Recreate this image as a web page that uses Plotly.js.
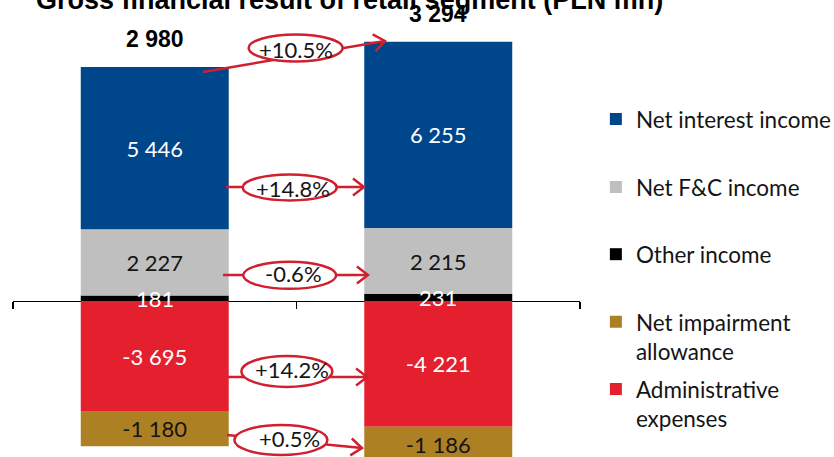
<!DOCTYPE html>
<html>
<head>
<meta charset="utf-8">
<script src="https://cdn.plot.ly/plotly-3.0.1.min.js"></script>
<style>
  html, body { margin: 0; padding: 0; background: #ffffff; }
  #chart { width: 834px; height: 457px; }
</style>
</head>
<body>
<div id="chart"></div>
<script>
// Retail segment: gross financial result components (PLN mn), two periods
const categories = ['Y1', 'Y2'];
const netInterestIncome = [5446, 6255];
const netFCIncome = [2227, 2215];
const otherIncome = [181, 231];
const adminExpenses = [-3695, -4221];
const impairmentAllowance = [-1180, -1186];
const totals = [2980, 3294];
const changeLabels = ['+10.5%', '+14.8%', '-0.6%', '+14.2%', '+0.5%'];

const BLUE = '#00468b';
const GREY = '#bfbfbf';
const BLACK = '#000000';
const RED = '#e5202e';
const GOLD = '#ad8024';
const LINK = '#d0202f';
const DARK = '#141414';
const FONT = 'Lato, "Open Sans", sans-serif';
const SANS = '"Liberation Sans", Arial, sans-serif';

// "5 446" / "-3 695" style labels
function fmt(v) {
  const s = Math.abs(Math.round(v)).toString().replace(/\B(?=(\d{3})+(?!\d))/g, ' ');
  return (v < 0 ? '-' : '') + s;
}

function barTrace(name, values, color, textColor, legendId, rank, showText) {
  return {
    type: 'bar',
    name: name,
    x: categories,
    y: values,
    text: values.map(fmt),
    texttemplate: '%{text}',
    textposition: showText ? 'inside' : 'none',
    insidetextanchor: 'middle',
    textangle: 0,
    constraintext: 'none',
    textfont: { family: FONT, size: 22, color: textColor },
    marker: { color: color, line: { width: 0 } },
    legend: legendId,
    legendrank: rank,
    hoverinfo: 'skip'
  };
}

// positive stack builds upward from zero, negative stack downward
const data = [
  barTrace('Other income', otherIncome, BLACK, '#ffffff', 'legend3', 3, false),
  barTrace('Net F&C income', netFCIncome, GREY, DARK, 'legend2', 2, true),
  barTrace('Net interest income', netInterestIncome, BLUE, '#ffffff', 'legend', 1, true),
  barTrace('Administrative<br>expenses', adminExpenses, RED, '#ffffff', 'legend5', 5, true),
  barTrace('Net impairment<br>allowance', impairmentAllowance, GOLD, DARK, 'legend4', 4, true)
];

// period-on-period connectors: line from one bar to the next, an ellipse with the change
// x in category-index units, y in PLN mn
const connectors = [
  { x0: 0.170, y0: 7685, x1: 0.812, y1: 8725, ex: 0.497, ey: 8490, ew: 94, eh: 27, tx: 0.497, ty: 8440, dir: [182, 31] },
  { x0: 0.251, y0: 3826, x1: 0.738, y1: 3826, ex: 0.476, ey: 3810, ew: 94, eh: 26, tx: 0.487, ty: 3790, dir: [1, 0] },
  { x0: 0.241, y0: 873, x1: 0.752, y1: 873, ex: 0.476, ey: 860, ew: 93, eh: 27, tx: 0.490, ty: 930, dir: [1, 0] },
  { x0: 0.259, y0: -2550, x1: 0.749, y1: -2550, ex: 0.466, ey: -2365, ew: 91, eh: 31, tx: 0.484, ty: -2300, dir: [1, 0] },
  { x0: 0.255, y0: -4497, x1: 0.731, y1: -4933, ex: 0.445, ey: -4664, ew: 93, eh: 30, tx: 0.477, ty: -4600, dir: [135, -13] }
];

function chevron(dir) {
  const len = Math.hypot(dir[0], dir[1]);
  const ux = dir[0] / len, uy = dir[1] / len;
  const px = -uy, py = ux;
  const back = 11, half = 8.5;
  const a = [-ux * back + px * half, -uy * back + py * half];
  const b = [-ux * back - px * half, -uy * back - py * half];
  return 'M' + a[0].toFixed(2) + ',' + a[1].toFixed(2) + ' L0,0 L' + b[0].toFixed(2) + ',' + b[1].toFixed(2);
}

const shapes = [];
const annotations = [];

connectors.forEach(function (c) {
  shapes.push({
    type: 'line', xref: 'x', yref: 'y', layer: 'above',
    x0: c.x0, y0: c.y0, x1: c.x1, y1: c.y1,
    line: { color: LINK, width: 2.5 }
  });
});
connectors.forEach(function (c, i) {
  shapes.push({
    type: 'circle', xref: 'x', yref: 'y', layer: 'above',
    xsizemode: 'pixel', ysizemode: 'pixel',
    xanchor: c.ex, yanchor: c.ey,
    x0: -c.ew / 2, x1: c.ew / 2, y0: -c.eh / 2, y1: c.eh / 2,
    fillcolor: '#ffffff',
    line: { color: LINK, width: 2.5 }
  });
  shapes.push({
    type: 'path', xref: 'x', yref: 'y', layer: 'above',
    xsizemode: 'pixel', ysizemode: 'pixel',
    xanchor: c.x1, yanchor: c.y1,
    path: chevron(c.dir),
    fillcolor: 'rgba(0,0,0,0)',
    line: { color: LINK, width: 2.5 }
  });
  annotations.push({
    xref: 'x', yref: 'y', x: c.tx, y: c.ty,
    text: changeLabels[i], showarrow: false,
    font: { family: FONT, size: 22, color: DARK }
  });
});

// thin "Other income" band: its value is written across the band, over the neighbours
categories.forEach(function (cat, i) {
  annotations.push({
    xref: 'x', yref: 'y', x: i, y: otherIncome[i] / 2,
    text: fmt(otherIncome[i]), showarrow: false,
    font: { family: FONT, size: 22, color: '#ffffff' }
  });
});

// totals above each column
categories.forEach(function (cat, i) {
  const top = otherIncome[i] + netFCIncome[i] + netInterestIncome[i];
  annotations.push({
    xref: 'x', yref: 'y', x: i, y: top,
    yanchor: 'bottom', yshift: 13,
    text: '<b>' + fmt(totals[i]) + '</b>', showarrow: false,
    font: { family: SANS, size: 23, color: '#000000' }
  });
});

// chart title, partly above the top edge
annotations.push({
  xref: 'paper', yref: 'paper', x: 0.594, y: 1,
  xanchor: 'center', yanchor: 'bottom', yshift: -17,
  text: '<b>Gross financial result of retail segment (PLN mn)</b>',
  showarrow: false,
  font: { family: SANS, size: 27, color: '#000000' }
});

function legendAt(y) {
  return {
    x: 1.028, xanchor: 'left', y: y, yanchor: 'top',
    valign: 'top', bgcolor: 'rgba(0,0,0,0)', borderwidth: 0,
    font: { family: FONT, size: 22.5, color: DARK }
  };
}

const layout = {
  width: 834,
  height: 457,
  margin: { l: 13, r: 254, t: 0, b: 0, pad: 0, autoexpand: false },
  paper_bgcolor: '#ffffff',
  plot_bgcolor: '#ffffff',
  barmode: 'relative',
  bargap: 0.478,
  separators: '. ',
  showlegend: true,
  xaxis: {
    type: 'category',
    range: [-0.5, 1.5],
    anchor: 'free',
    position: 0.3414,
    showline: true, linecolor: '#000000', linewidth: 1.5,
    ticks: 'outside', tickson: 'boundaries', ticklen: 7, tickwidth: 1.5, tickcolor: '#000000',
    showticklabels: false, showgrid: false, zeroline: false,
    layer: 'below traces', fixedrange: true
  },
  yaxis: {
    range: [-5235, 10101],
    visible: false, showgrid: false, zeroline: false, fixedrange: true
  },
  legend: legendAt(0.786),
  legend2: legendAt(0.637),
  legend3: legendAt(0.490),
  legend4: legendAt(0.342),
  legend5: legendAt(0.195),
  shapes: shapes,
  annotations: annotations
};

Plotly.newPlot('chart', data, layout, { displayModeBar: false, staticPlot: true });
</script>
</body>
</html>
